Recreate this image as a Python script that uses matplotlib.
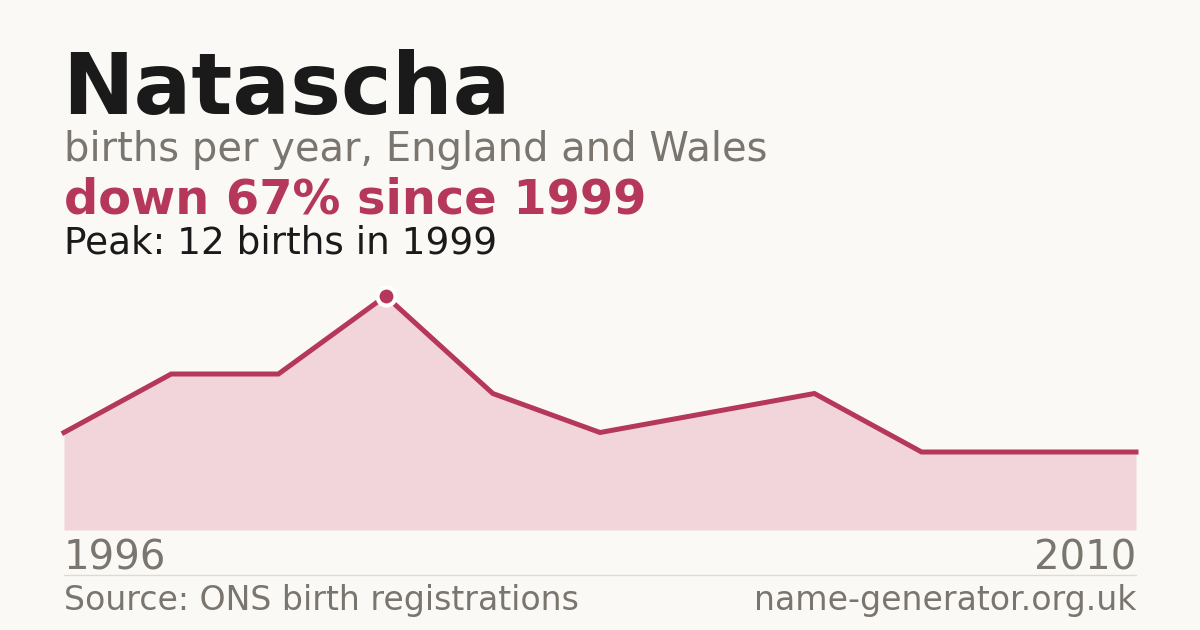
import matplotlib.pyplot as plt
from matplotlib.lines import Line2D

plt.rcParams['font.family'] = ['DejaVu Sans']

# births per year (evenly spaced points, 1996 .. 2010)
births = [5, 8, 8, 12, 7, 5, 6, 7, 4, 4, 4]
peak_idx = 3
first_year = "1996"
last_year = "2010"

name = "Natascha"
subtitle = "births per year, England and Wales"
change_text = "down 67% since 1999"
peak_text = "Peak: 12 births in 1999"
source_text = "Source: ONS birth registrations"
site_text = "name-generator.org.uk"

bg = "#FAF9F5"
red = "#B5385A"
fill = "#F2D5DA"
grey = "#7A756E"
dark = "#1A1A1A"

W, H = 1200, 630
fig = plt.figure(figsize=(12, 6.3), dpi=100, facecolor=bg)


def fy(px):
    return 1 - px / H


def fx(px):
    return px / W


left, right = 64, 1136
bottom, top = 530, 296
ax = fig.add_axes([fx(left), fy(bottom), fx(right - left), (bottom - top) / H])
ax.set_facecolor("none")
xs = list(range(len(births)))
ax.fill_between(xs, births, 0, color=fill, lw=0)
ax.plot(xs, births, color=red, lw=3.6, solid_joinstyle="miter", clip_on=False)
ax.plot([peak_idx], [births[peak_idx]], marker="o", ms=13, mfc=red, mec="white",
        mew=3, clip_on=False, zorder=5)
ax.set_xlim(0, len(births) - 1)
ax.set_ylim(0, max(births))
ax.axis("off")

fig.text(fx(62), fy(114), name, fontsize=61.7, fontweight="bold", color=dark, va="baseline")
fig.text(fx(64), fy(161), subtitle, fontsize=28.8, color=grey, va="baseline")
fig.text(fx(64), fy(214), change_text, fontsize=34.5, fontweight="bold", color=red, va="baseline")
fig.text(fx(64), fy(254), peak_text, fontsize=26.9, color=dark, va="baseline")

fig.text(fx(64), fy(570), first_year, fontsize=29, color=grey, va="baseline")
fig.text(fx(1136), fy(570), last_year, fontsize=29, color=grey, va="baseline", ha="right")

fig.add_artist(Line2D([fx(64), fx(1136)], [fy(574.5), fy(574.5)], color="#DEDBD4", lw=1))

fig.text(fx(64), fy(610), source_text, fontsize=23.9, color=grey, va="baseline")
fig.text(fx(1136), fy(610), site_text, fontsize=23.9, color=grey, va="baseline", ha="right")

fig.savefig("out.png", dpi=100, facecolor=bg)
